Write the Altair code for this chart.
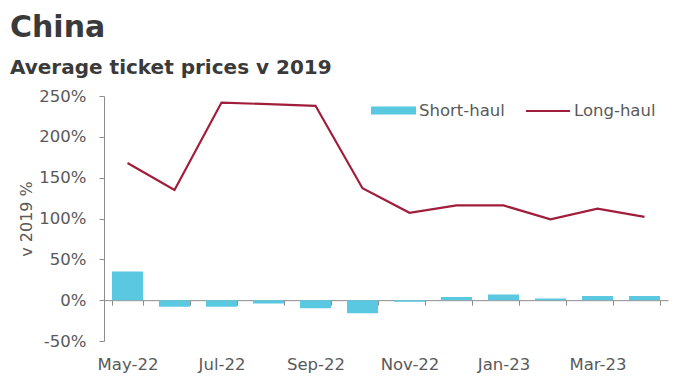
import altair as alt
import pandas as pd

months = ["May-22", "Jun-22", "Jul-22", "Aug-22", "Sep-22", "Oct-22",
          "Nov-22", "Dec-22", "Jan-23", "Feb-23", "Mar-23", "Apr-23"]
short_haul = [35, -8, -8, -4, -10, -16, -2, 4, 7, 2, 5, 5]
long_haul = [168, 135, 242, 240, 238, 137, 107, 116, 116, 99, 112, 102]
shown_labels = ["May-22", "Jul-22", "Sep-22", "Nov-22", "Jan-23", "Mar-23"]
y_ticks = [-50, 0, 50, 100, 150, 200, 250]

W, H = 564, 245
Y_MIN, Y_MAX = -50, 250
zero_offset = H * (0 - Y_MIN) / (Y_MAX - Y_MIN)

FONT = "DejaVu Sans"
CYAN = "#5BC8E2"
RED = "#A01E3C"
AXIS_GREY = "#8C8C8C"
LABEL_GREY = "#595959"

df_short = pd.DataFrame({"month": months, "value": short_haul, "series": "Short-haul"})
df_long = pd.DataFrame({"month": months, "value": long_haul, "series": "Long-haul"})

label_list = "[" + ",".join("'" + s + "'" for s in shown_labels) + "]"

x_enc = alt.X(
    "month:N",
    sort=months,
    scale=alt.Scale(paddingInner=0.34, paddingOuter=0.17),
    axis=alt.Axis(
        title=None,
        orient="bottom",
        offset=-zero_offset,
        tickBand="extent",
        tickSize=5,
        tickColor=AXIS_GREY,
        domainColor=AXIS_GREY,
        labelAngle=0,
        labelPadding=zero_offset + 10,
        labelFont=FONT,
        labelFontSize=16.5,
        labelColor=LABEL_GREY,
        labelExpr="indexof(" + label_list + ", datum.value) >= 0 ? datum.value : ''",
        labelOverlap=False,
    ),
)

y_scale = alt.Scale(domain=[Y_MIN, Y_MAX], nice=False, zero=True)

bars = alt.Chart(df_short).mark_bar().encode(
    x=x_enc,
    y=alt.Y(
        "value:Q",
        scale=y_scale,
        axis=alt.Axis(
            title="v 2019 %",
            values=y_ticks,
            grid=False,
            tickSize=5,
            tickColor=AXIS_GREY,
            domainColor=AXIS_GREY,
            labelExpr="datum.value + '%'",
            labelFont=FONT,
            labelFontSize=16.5,
            labelColor=LABEL_GREY,
            labelPadding=13,
            titleFont=FONT,
            titleFontSize=16,
            titleFontWeight="normal",
            titleColor=LABEL_GREY,
            titlePadding=4,
        ),
    ),
    color=alt.Color(
        "series:N",
        scale=alt.Scale(domain=["Short-haul"], range=[CYAN]),
        legend=alt.Legend(
            title=None,
            orient="none",
            legendX=267,
            legendY=-8,
            symbolType="M-1,-0.18L1,-0.18L1,0.18L-1,0.18Z",
            symbolSize=2025,
            symbolStrokeWidth=0,
            labelFont=FONT,
            labelFontSize=16.5,
            labelColor=LABEL_GREY,
            labelOffset=3,
        ),
    ),
)

line = alt.Chart(df_long).mark_line(strokeWidth=2.2).encode(
    x=alt.X("month:N", sort=months),
    y=alt.Y("value:Q", scale=y_scale),
    stroke=alt.Stroke(
        "series:N",
        scale=alt.Scale(domain=["Long-haul"], range=[RED]),
        legend=alt.Legend(
            title=None,
            orient="none",
            legendX=421,
            legendY=-8,
            symbolType="stroke",
            symbolSize=1936,
            symbolStrokeWidth=2,
            labelFont=FONT,
            labelFontSize=16.5,
            labelColor=LABEL_GREY,
            labelOffset=3,
        ),
    ),
)

chart = (
    alt.layer(bars, line)
    .properties(
        width=W,
        height=H,
        autosize=alt.AutoSizeParams(type="none"),
        padding={"left": 96, "top": 88, "right": 8, "bottom": 40},
        title=alt.TitleParams(
            text="China",
            subtitle="Average ticket prices v 2019",
            anchor="start",
            frame="group",
            dx=-94,
            offset=10,
            font=FONT,
            fontSize=30,
            fontWeight="bold",
            color="#3A3A3A",
            subtitleFont=FONT,
            subtitleFontSize=20,
            subtitleFontWeight="bold",
            subtitleColor="#3A3A3A",
            subtitlePadding=15,
        ),
    )
    .configure_view(stroke=None)
)

chart.save("out.html", embed_options={"renderer": "svg", "actions": False})
